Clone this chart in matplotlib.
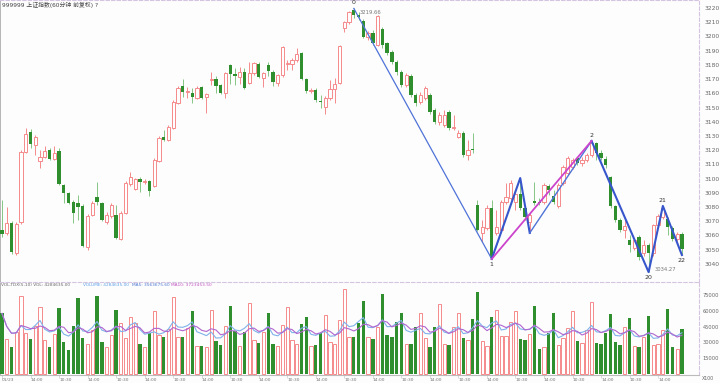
import matplotlib
matplotlib.use('Agg')
import matplotlib.pyplot as plt
import numpy as np
import pandas as pd

plt.rcParams['font.family'] = ['DejaVu Sans', 'Noto Sans CJK SC']

# 60-minute bars, 999999 index
opens = [3063.9, 3061.8, 3068.8, 3047.7, 3069.5, 3118.7, 3132.8, 3123.7, 3112.4, 3115.2,
         3120.1, 3113.8, 3119.4, 3095.5, 3089.9, 3083.6, 3082.9, 3080.8, 3051.9, 3074.4,
         3087.1, 3082.9, 3069.5, 3073.7, 3074.4, 3057.6, 3075.8, 3096.2, 3092.7, 3099.7,
         3097.3, 3098.3, 3094.8, 3112.4, 3129.3, 3127.2, 3135.6, 3153.2, 3165.1, 3160.6,
         3160.2, 3156.7, 3164.4, 3157.4, 3169.0, 3170.1, 3165.8, 3160.2, 3179.9, 3173.6,
         3171.5, 3175.0, 3167.2, 3174.3, 3180.6, 3170.8, 3179.9, 3175.0, 3167.2, 3172.9,
         3180.3, 3180.6, 3183.4, 3188.3, 3170.1, 3161.3, 3162.3, 3154.9, 3150.4, 3156.7,
         3163.0, 3167.2, 3205.9, 3210.1, 3218.6, 3215.1, 3210.8, 3199.6, 3202.4, 3194.0,
         3205.2, 3195.4, 3189.0, 3182.0, 3175.0, 3165.8, 3172.2, 3158.8, 3153.9, 3156.7,
         3158.8, 3148.3, 3139.8, 3137.7, 3146.8, 3135.3, 3129.3, 3132.1, 3116.6, 3120.5,
         3081.5, 3061.8, 3065.3, 3079.4, 3061.8, 3063.9, 3083.6, 3086.4, 3083.6, 3089.2,
         3079.4, 3069.5, 3084.3, 3083.9, 3083.6, 3094.8, 3087.8, 3080.8, 3096.9, 3104.0,
         3108.2, 3114.5, 3111.0, 3113.1, 3116.6, 3125.1, 3118.0, 3113.8, 3101.1, 3080.8,
         3070.9, 3063.9, 3056.9, 3051.2, 3059.0, 3047.7, 3053.3, 3047.7, 3067.4, 3073.0,
         3071.6, 3065.3, 3057.6, 3061.1]
highs = [3085.0, 3080.1, 3070.2, 3069.5, 3120.1, 3135.6, 3134.9, 3130.7, 3120.1, 3122.9,
         3121.5, 3122.9, 3121.5, 3096.2, 3090.6, 3085.0, 3088.5, 3082.2, 3075.1, 3084.3,
         3097.6, 3083.6, 3076.5, 3082.9, 3081.5, 3077.2, 3098.3, 3104.7, 3100.4, 3101.1,
         3099.7, 3099.0, 3114.5, 3130.0, 3134.2, 3137.7, 3155.3, 3165.1, 3170.1, 3164.4,
         3163.7, 3165.1, 3165.1, 3160.2, 3175.0, 3172.2, 3166.5, 3175.0, 3180.6, 3177.8,
         3178.5, 3177.8, 3182.0, 3182.0, 3182.0, 3175.0, 3182.0, 3176.4, 3173.6, 3193.3,
         3183.4, 3184.8, 3191.9, 3189.0, 3170.8, 3163.7, 3163.7, 3158.8, 3158.1, 3169.4,
         3170.8, 3194.0, 3210.8, 3217.9, 3219.66, 3217.2, 3212.2, 3203.8, 3204.5, 3215.1,
         3206.6, 3196.1, 3190.4, 3183.4, 3176.4, 3174.3, 3173.6, 3160.2, 3160.9, 3165.1,
         3160.2, 3149.7, 3146.8, 3148.3, 3148.3, 3144.7, 3134.2, 3133.5, 3127.2, 3132.1,
         3085.0, 3070.9, 3081.5, 3085.0, 3078.0, 3085.0, 3096.9, 3099.0, 3092.0, 3100.4,
         3081.5, 3076.5, 3097.6, 3086.4, 3096.9, 3096.2, 3092.0, 3096.9, 3109.6, 3115.9,
         3114.5, 3115.2, 3115.2, 3118.0, 3126.5, 3125.8, 3120.1, 3115.9, 3101.9, 3081.5,
         3072.3, 3070.9, 3060.4, 3058.3, 3060.4, 3056.9, 3054.7, 3068.1, 3075.1, 3080.8,
         3073.0, 3066.7, 3062.5, 3062.5]
lows = [3059.0, 3060.4, 3047.0, 3046.3, 3068.1, 3118.0, 3121.5, 3116.6, 3107.5, 3114.5,
        3113.1, 3113.1, 3095.5, 3082.9, 3082.2, 3068.8, 3070.9, 3051.9, 3049.8, 3073.7,
        3081.5, 3070.2, 3068.1, 3072.3, 3057.6, 3056.9, 3075.1, 3094.8, 3092.0, 3090.6,
        3096.2, 3087.8, 3094.1, 3111.7, 3126.5, 3126.5, 3134.9, 3152.5, 3157.4, 3156.7,
        3153.2, 3156.0, 3156.0, 3146.1, 3165.8, 3160.2, 3159.5, 3156.7, 3166.5, 3165.8,
        3166.5, 3163.0, 3166.5, 3172.9, 3170.8, 3164.4, 3172.2, 3165.1, 3165.1, 3171.5,
        3176.4, 3176.4, 3182.0, 3169.4, 3160.2, 3160.2, 3153.9, 3149.7, 3145.4, 3155.3,
        3153.2, 3166.5, 3203.1, 3208.7, 3213.0, 3211.5, 3198.9, 3197.5, 3194.0, 3193.3,
        3191.9, 3186.9, 3180.6, 3172.9, 3164.4, 3164.4, 3157.4, 3151.1, 3152.5, 3155.3,
        3145.4, 3138.4, 3137.7, 3136.3, 3134.2, 3134.2, 3128.6, 3115.2, 3113.1, 3118.0,
        3063.2, 3055.5, 3063.9, 3043.5, 3060.4, 3062.5, 3082.2, 3085.0, 3078.0, 3078.0,
        3070.9, 3061.8, 3081.5, 3081.5, 3082.2, 3088.5, 3082.2, 3079.4, 3095.5, 3102.6,
        3106.8, 3109.6, 3108.9, 3111.7, 3115.2, 3113.1, 3113.1, 3107.5, 3079.4, 3069.5,
        3062.5, 3058.3, 3048.4, 3049.8, 3042.8, 3045.6, 3034.27, 3045.6, 3066.0, 3071.6,
        3060.4, 3056.0, 3056.0, 3046.3]
closes = [3061.1, 3068.8, 3048.4, 3068.1, 3118.7, 3131.4, 3124.4, 3129.3, 3115.2, 3119.4,
          3113.8, 3118.0, 3096.2, 3089.9, 3082.9, 3075.8, 3080.1, 3052.6, 3073.7, 3082.9,
          3083.6, 3070.9, 3074.4, 3081.5, 3058.3, 3075.8, 3096.9, 3101.1, 3099.7, 3097.6,
          3098.0, 3091.3, 3113.1, 3128.6, 3127.2, 3136.3, 3153.9, 3163.7, 3160.9, 3161.3,
          3157.4, 3163.7, 3156.7, 3159.5, 3169.7, 3165.1, 3160.2, 3174.3, 3173.6, 3172.2,
          3175.0, 3163.7, 3174.3, 3181.3, 3171.5, 3174.3, 3175.7, 3168.0, 3172.9, 3192.6,
          3181.0, 3183.4, 3187.6, 3170.1, 3161.6, 3162.0, 3155.3, 3154.2, 3156.7, 3163.0,
          3166.5, 3193.3, 3210.1, 3217.2, 3215.1, 3213.6, 3199.6, 3202.4, 3195.4, 3214.4,
          3194.0, 3188.3, 3182.0, 3175.0, 3165.8, 3172.9, 3158.8, 3153.2, 3158.8, 3163.7,
          3146.8, 3139.8, 3144.7, 3144.7, 3135.6, 3136.0, 3132.1, 3116.6, 3120.1, 3119.8,
          3063.9, 3066.0, 3079.4, 3044.2, 3066.0, 3083.6, 3087.1, 3096.9, 3089.2, 3079.4,
          3073.0, 3074.4, 3082.9, 3083.2, 3095.5, 3092.0, 3083.6, 3095.5, 3108.2, 3114.5,
          3113.1, 3111.0, 3113.1, 3116.6, 3125.1, 3118.0, 3114.5, 3109.6, 3080.8, 3070.9,
          3063.9, 3066.7, 3053.3, 3056.9, 3044.9, 3053.3, 3047.7, 3067.4, 3073.7, 3079.4,
          3066.0, 3057.6, 3061.1, 3050.5]
volumes = [57500, 32800, 25800, 40100, 74000, 38500, 32800, 45500, 63300, 32100,
           25800, 37900, 62900, 30600, 22600, 45500, 71800, 33700, 28300, 41700,
           74000, 30600, 25200, 36900, 60700, 48000, 33700, 53700, 48000, 28300,
           25200, 38500, 60100, 36900, 35300, 42300, 73400, 35300, 35300, 43300,
           60100, 26400, 26400, 25800, 60700, 31500, 27400, 45500, 64500, 40700,
           26400, 40100, 67100, 32100, 29000, 40100, 57500, 28300, 26400, 46400,
           63300, 32100, 28300, 47400, 53700, 26700, 27400, 39100, 56000, 30200,
           28300, 51200, 80400, 34700, 34700, 48600, 69300, 34700, 32800, 44800,
           75600, 36900, 35300, 49000, 57500, 28300, 28300, 44200, 58200, 33700,
           25800, 44800, 66400, 28300, 27400, 44200, 57500, 34400, 32100, 51800,
           78200, 31500, 26400, 54400, 60700, 35900, 35900, 49000, 60100, 33100,
           32100, 37900, 64800, 23600, 25200, 38500, 57500, 27400, 33700, 43300,
           59800, 31500, 29600, 41700, 68000, 29600, 28300, 38500, 56600, 29900,
           27400, 44200, 52800, 26400, 25200, 35300, 55000, 27400, 28300, 41700,
           62000, 25800, 23600, 42800]

# swing points (bar index, price, label)
zz_bars = [74, 103, 109, 111, 124, 136, 139, 143]
zz_prices = [3219.66, 3043.5, 3100.4, 3061.8, 3126.5, 3034.27, 3080.8, 3046.3]
pt_labels = {74: '0', 103: '1', 124: '2', 136: '20', 139: '21', 143: '22'}

price_ticks = list(range(3040, 3230, 10))
vol_ticks = [15000, 30000, 45000, 60000, 75000]
first_label = '01/23'

UP = '#f58a8c'
DOWN = '#2f8f2f'
DOWN_WICK = '#86c686'

o = np.array(opens); h = np.array(highs); l = np.array(lows); c = np.array(closes)
v = np.array(volumes)
x = np.arange(len(c))
up = c >= o

fig = plt.figure(figsize=(7.2, 3.83), dpi=100)
fig.patch.set_facecolor('#fdfdfd')
ax = fig.add_axes([0, 1 - 282 / 383, 699 / 720, 282 / 383])
axv = fig.add_axes([0, 8 / 383, 699 / 720, 93 / 383])

xl = (-0.42, 146.6)
for a in (ax, axv):
    a.set_facecolor('#fdfdfd')
    a.set_xlim(*xl)
    for s in ('top', 'right'):
        a.spines[s].set_linestyle((0, (3, 2)))
        a.spines[s].set_color('#d4c4e0')
        a.spines[s].set_linewidth(0.8)
    a.spines['left'].set_color('#aaaaaa')
    a.spines['left'].set_linewidth(1.2)
    a.spines['bottom'].set_visible(False)
    a.yaxis.tick_right()
    a.tick_params(axis='y', length=0, pad=4, labelsize=4.3, labelcolor='#666666')

# candles
ax.vlines(x[up], l[up], h[up], color=UP, lw=0.7, zorder=2)
ax.vlines(x[~up], l[~up], h[~up], color=DOWN_WICK, lw=0.7, zorder=2)
body = np.maximum(np.abs(c - o), 0.35)
ax.bar(x[up], body[up], bottom=np.minimum(o, c)[up], width=0.68,
       facecolor='white', edgecolor=UP, lw=0.7, zorder=3)
ax.bar(x[~up], body[~up], bottom=np.minimum(o, c)[~up], width=0.7,
       color=DOWN, lw=0, zorder=3)

# zigzag
zb = np.array(zz_bars); zp = np.array(zz_prices)
ax.plot(zb[0:2], zp[0:2], color='#4f73d8', lw=0.9, zorder=4)
ax.plot(zb[1:4], zp[1:4], color='#3856cc', lw=1.5, zorder=4)
ax.plot(zb[3:5], zp[3:5], color='#4f73d8', lw=1.0, zorder=4)
ax.plot([zb[1], zb[4]], [zp[1], zp[4]], color='#cc44cc', lw=1.3, zorder=5)
ax.plot(zb[4:], zp[4:], color='#3856cc', lw=1.5, zorder=4)
for b, p in zip(zb, zp):
    if b in pt_labels:
        hi = b in (74, 124, 139)
        ax.text(b, p + (2.2 if hi else -2.2), pt_labels[b], ha='center',
                va='bottom' if hi else 'top', fontsize=4.5, color='#333333', zorder=6)
ax.text(zb[0] + 1.3, zp[0] - 2.5, '%.2f' % zp[0], fontsize=3.8, color='#777777', va='center')
ax.text(zb[5] + 1.3, zp[5] + 1.5, '%.2f' % zp[5], fontsize=3.8, color='#777777', va='center')

ax.set_ylim(3027.3, 3225.6)
ax.set_yticks(price_ticks)
ax.set_yticklabels([str(t) for t in price_ticks])
ax.set_xticks([])

# volume
axv.bar(x[up], v[up], width=0.68, facecolor='white', edgecolor=UP, lw=0.7, zorder=3)
axv.bar(x[~up], v[~up], width=0.7, color=DOWN, lw=0, zorder=3)
ma5 = pd.Series(v).rolling(5, min_periods=1).mean()
ma10 = pd.Series(v).rolling(10, min_periods=1).mean()
axv.plot(x, ma5, color='#7fb2ea', lw=0.8, zorder=4)
axv.plot(x, ma10, color='#b265cf', lw=0.8, zorder=4)
axv.set_ylim(-1000, 87400)
axv.set_yticks(vol_ticks)
axv.set_yticklabels([str(t) for t in vol_ticks])
axv.tick_params(axis='y', pad=2.5, labelsize=3.7)
axv.spines['bottom'].set_visible(True)
axv.spines['bottom'].set_color('#bbbbbb')
axv.spines['bottom'].set_linewidth(0.8)

tick_pos = [0] + list(range(6, len(c), 6))
tick_txt = [first_label] + ['14:00' if (i % 4) == 2 else '10:30' for i in tick_pos[1:]]
axv.set_xticks(tick_pos)
axv.set_xticklabels(tick_txt, ha='left')
axv.tick_params(axis='x', length=2, width=0.5, color='#cccccc', pad=0.3,
                labelsize=3.2, labelcolor='#777777')

# header texts
fig.text(2 / 720, 1 - 5 / 383, '999999 上证指数(60分钟 前复权) ?', fontsize=4.2,
         color='#444444', va='center')
yv = 1 - 285 / 383
fig.text(1 / 720, yv, 'VOL-TDX(5,10) VOL: 4284635.00', fontsize=3.1, color='#666666', va='center')
fig.text(83 / 720, yv, 'VOLUME: 4284635.00', fontsize=3.1, color='#5aa0e6', va='center')
fig.text(132 / 720, yv, 'MA5: 3563675.60', fontsize=3.1, color='#4a78d0', va='center')
fig.text(171 / 720, yv, 'MA10: 3723453.50', fontsize=3.1, color='#c050c0', va='center')
fig.text(702 / 720, 1 - 378 / 383, 'X100', fontsize=3.4, color='#666666', va='center')

fig.savefig('out.png', dpi=100, facecolor=fig.get_facecolor())
